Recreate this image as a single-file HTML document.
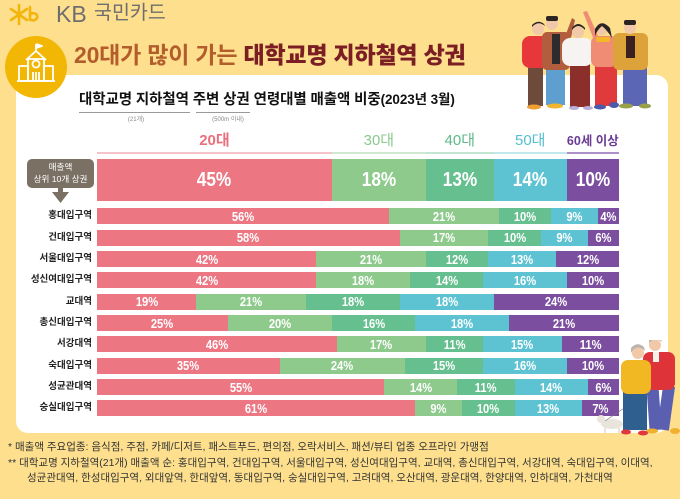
<!DOCTYPE html>
<html><head><meta charset="utf-8">
<style>
*{margin:0;padding:0;box-sizing:border-box}
body{width:680px;height:499px;background:#fddf8d;position:relative;overflow:hidden;font-family:"Liberation Sans","Noto Sans CJK KR",sans-serif}
.a{position:absolute}
.panel{left:16px;top:75px;width:652px;height:358px;background:#fff;border-radius:12px}
.title{left:74px;top:36px;font-size:23px;font-weight:bold;color:#b35c2c;white-space:nowrap;letter-spacing:-0.2px}
.title b{color:#7a1e24}
.sub{left:79px;top:88px;font-size:14.5px;font-weight:bold;color:#111;white-space:nowrap;letter-spacing:-0.1px}
.ul{height:1px;background:#9a9a9a}
.note{font-size:6px;color:#888;white-space:nowrap;transform:translateX(-50%)}
.hdr{left:97px;top:130px;width:522px;height:24px;display:flex}
.hdr div{text-align:center;font-size:15px;line-height:22px;white-space:nowrap;border-bottom:2px solid}
.bar{left:97px;width:522px;display:flex}
.bar div{display:flex;align-items:center;justify-content:center;color:#fff;font-weight:bold;overflow:visible;white-space:nowrap}
.bar span{display:inline-block;transform:scaleX(0.86)}
.r{height:16px;font-size:13px}
.big{top:159px;height:42px;font-size:20px}
.p1{background:#ec7783}.p2{background:#8dca8c}.p3{background:#66bf8e}.p4{background:#5dc3d3}.p5{background:#7b4e9f}
.lab{left:0;width:92px;text-align:right;font-size:9.5px;font-weight:bold;color:#222;line-height:16px;white-space:nowrap}
.foot{font-size:10.5px;color:#333;white-space:nowrap;line-height:14px}
.call{left:27px;top:159px;width:67px;height:29px;background:#7b7064;border-radius:5px;color:#fff;font-size:8.6px;text-align:center;line-height:12px;padding-top:2px;white-space:nowrap}
</style></head><body>

<svg class="a" style="left:8px;top:3px" width="34" height="24" viewBox="0 0 34 24">
<g stroke="#f3b50c" stroke-width="2.6" stroke-linecap="round" fill="none">
<line x1="11" y1="2" x2="11" y2="21"/>
<line x1="3" y1="6" x2="19" y2="17"/>
<line x1="3" y1="17" x2="19" y2="6"/>
<path d="M22 4 L22 17 M22 12 Q24 9 28 11 Q31 14 27 17 Q24 18 22 16"/>
</g>
</svg>
<div class="a" style="left:56px;top:1px;font-size:23px;color:#6e6e6e;line-height:26px">KB</div>
<div class="a" style="left:94px;top:2px;font-size:19.5px;color:#6e6e6e;line-height:22px">국민카드</div>

<div class="a panel"></div>

<svg class="a" style="left:5px;top:36px" width="62" height="62" viewBox="0 0 62 62">
<circle cx="31" cy="31" r="31" fill="#f2b705"/>
<g stroke="#fff" stroke-width="1.8" fill="none" stroke-linejoin="round">
<line x1="31" y1="8" x2="31" y2="16"/>
<path d="M31 8 L37 10 L31 12" fill="#fff"/>
<path d="M21 24 L31 15 L41 24"/>
<rect x="23" y="23" width="16" height="22"/>
<circle cx="31" cy="28" r="3.5"/>
<rect x="14" y="30" width="9" height="15"/>
<rect x="39" y="30" width="9" height="15"/>
<line x1="12" y1="45" x2="50" y2="45"/>
<line x1="28" y1="36" x2="28" y2="45"/><line x1="31" y1="36" x2="31" y2="45"/><line x1="34" y1="36" x2="34" y2="45"/>
</g>
</svg>

<div class="a title">20대가 많이 가는 <b>대학교명 지하철역 상권</b></div>

<div class="a sub">대학교명 지하철역 주변 상권 연령대별 매출액 비중<span style="font-size:13.5px">(2023년 3월)</span></div>
<div class="a ul" style="left:79px;top:112px;width:111px"></div>
<div class="a ul" style="left:196px;top:112px;width:54px"></div>
<div class="a note" style="left:136px;top:114px">(21개)</div>
<div class="a note" style="left:228px;top:114px">(500m 이내)</div>

<svg class="a" style="left:515px;top:5px" width="145" height="110" viewBox="515 5 145 110">
<rect x="528" y="66" width="15" height="40" fill="#6e4a3a"/>
<rect x="522" y="36" width="31" height="32" rx="8" fill="#e8373b"/>
<circle cx="538" cy="29" r="6" fill="#f1c9a8"/><path d="M532 27 Q538 20 545 26 L544 24 Q538 19 532 25Z" fill="#2c2422"/>
<ellipse cx="534" cy="107" rx="7" ry="2.5" fill="#f0a032"/>
<rect x="546" y="65" width="19" height="40" fill="#5f9fcf"/>
<rect x="542" y="32" width="28" height="38" rx="5" fill="#b25d3e"/>
<rect x="552" y="34" width="8" height="30" fill="#2d2b2b"/>
<path d="M566 34 L572 18 L575 20 L571 38Z" fill="#b25d3e"/>
<circle cx="552" cy="24" r="6" fill="#f1c9a8"/><rect x="546" y="16" width="12" height="5" rx="2" fill="#2c2422"/>
<ellipse cx="555" cy="106" rx="8" ry="2.5" fill="#f2b52e"/>
<rect x="570" y="60" width="20" height="47" fill="#8c2f2b"/>
<rect x="562" y="38" width="31" height="28" rx="8" fill="#f6f3f1"/>
<circle cx="578" cy="32" r="6" fill="#f1c9a8"/><path d="M572 30 Q578 22 585 30 L585 28 Q578 20 572 28Z" fill="#2c2422"/>
<ellipse cx="574" cy="108" rx="5" ry="2" fill="#b8b0d8"/><ellipse cx="588" cy="108" rx="5" ry="2" fill="#b8b0d8"/>
<rect x="595" y="63" width="22" height="43" fill="#e03a3d"/>
<rect x="591" y="36" width="26" height="31" rx="7" fill="#f08b74"/>
<path d="M594 40 L583 12 L587 11 L599 38Z" fill="#f08b74"/>
<rect x="596" y="37" width="14" height="5" rx="2" fill="#f5b72a"/>
<circle cx="602" cy="29" r="6" fill="#f1c9a8"/><path d="M595 29 Q601 18 610 28 L612 38 Q607 30 602 26 Q597 30 595 36Z" fill="#2c2422"/>
<ellipse cx="600" cy="107" rx="6" ry="2.5" fill="#4c5aa8"/><ellipse cx="614" cy="105" rx="5" ry="3" fill="#4c5aa8"/>
<rect x="623" y="62" width="24" height="44" fill="#5b67b5"/>
<rect x="613" y="33" width="35" height="37" rx="6" fill="#dda23a"/>
<rect x="626" y="36" width="9" height="22" fill="#3a2020"/>
<circle cx="630" cy="28" r="6" fill="#f1c9a8"/><rect x="624" y="20" width="12" height="5" rx="2" fill="#2c2422"/>
<ellipse cx="626" cy="106" rx="7" ry="2.5" fill="#9aa04a"/><ellipse cx="645" cy="106" rx="6" ry="2.5" fill="#9aa04a"/>
</svg>

<div class="a hdr">
<div style="width:45%;color:#ea6f7d;border-color:#f6c3c8;font-weight:bold">20대</div>
<div style="width:18%;color:#8bc98c;border-color:#cfe9d0">30대</div>
<div style="width:13%;color:#5fba88;border-color:#c2e6d2">40대</div>
<div style="width:14%;color:#55bfcf;border-color:#c2e8ee">50대</div>
<div style="width:10%;color:#6a3b93;border-color:#ad92c9;font-size:12.5px;font-weight:bold">60세 이상</div>
</div>

<div class="a call">매출액<br>상위 10개 상권</div>
<div class="a" style="left:58px;top:187px;width:5px;height:6px;background:#7b7064"></div>
<svg class="a" style="left:52px;top:192px" width="17" height="11"><path d="M0 0 L17 0 L8.5 11Z" fill="#7b7064"/></svg>

<div class="a bar big">
<div class="p1" style="width:45%"><span>45%</span></div>
<div class="p2" style="width:18%"><span>18%</span></div>
<div class="p3" style="width:13%"><span>13%</span></div>
<div class="p4" style="width:14%"><span>14%</span></div>
<div class="p5" style="width:10%"><span>10%</span></div>
</div>

<div class="a lab" style="top:208px">홍대입구역</div>
<div class="a bar r" style="top:208px"><div class="p1" style="width:56%"><span>56%</span></div><div class="p2" style="width:21%"><span>21%</span></div><div class="p3" style="width:10%"><span>10%</span></div><div class="p4" style="width:9%"><span>9%</span></div><div class="p5" style="width:4%"><span>4%</span></div></div>

<div class="a lab" style="top:229.5px">건대입구역</div>
<div class="a bar r" style="top:229.5px"><div class="p1" style="width:58%"><span>58%</span></div><div class="p2" style="width:17%"><span>17%</span></div><div class="p3" style="width:10%"><span>10%</span></div><div class="p4" style="width:9%"><span>9%</span></div><div class="p5" style="width:6%"><span>6%</span></div></div>

<div class="a lab" style="top:251px">서울대입구역</div>
<div class="a bar r" style="top:251px"><div class="p1" style="width:42%"><span>42%</span></div><div class="p2" style="width:21%"><span>21%</span></div><div class="p3" style="width:12%"><span>12%</span></div><div class="p4" style="width:13%"><span>13%</span></div><div class="p5" style="width:12%"><span>12%</span></div></div>

<div class="a lab" style="top:272px">성신여대입구역</div>
<div class="a bar r" style="top:272px"><div class="p1" style="width:42%"><span>42%</span></div><div class="p2" style="width:18%"><span>18%</span></div><div class="p3" style="width:14%"><span>14%</span></div><div class="p4" style="width:16%"><span>16%</span></div><div class="p5" style="width:10%"><span>10%</span></div></div>

<div class="a lab" style="top:293.5px">교대역</div>
<div class="a bar r" style="top:293.5px"><div class="p1" style="width:19%"><span>19%</span></div><div class="p2" style="width:21%"><span>21%</span></div><div class="p3" style="width:18%"><span>18%</span></div><div class="p4" style="width:18%"><span>18%</span></div><div class="p5" style="width:24%"><span>24%</span></div></div>

<div class="a lab" style="top:315px">총신대입구역</div>
<div class="a bar r" style="top:315px"><div class="p1" style="width:25%"><span>25%</span></div><div class="p2" style="width:20%"><span>20%</span></div><div class="p3" style="width:16%"><span>16%</span></div><div class="p4" style="width:18%"><span>18%</span></div><div class="p5" style="width:21%"><span>21%</span></div></div>

<div class="a lab" style="top:336px">서강대역</div>
<div class="a bar r" style="top:336px"><div class="p1" style="width:46%"><span>46%</span></div><div class="p2" style="width:17%"><span>17%</span></div><div class="p3" style="width:11%"><span>11%</span></div><div class="p4" style="width:15%"><span>15%</span></div><div class="p5" style="width:11%"><span>11%</span></div></div>

<div class="a lab" style="top:357.5px">숙대입구역</div>
<div class="a bar r" style="top:357.5px"><div class="p1" style="width:35%"><span>35%</span></div><div class="p2" style="width:24%"><span>24%</span></div><div class="p3" style="width:15%"><span>15%</span></div><div class="p4" style="width:16%"><span>16%</span></div><div class="p5" style="width:10%"><span>10%</span></div></div>

<div class="a lab" style="top:379px">성균관대역</div>
<div class="a bar r" style="top:379px"><div class="p1" style="width:55%"><span>55%</span></div><div class="p2" style="width:14%"><span>14%</span></div><div class="p3" style="width:11%"><span>11%</span></div><div class="p4" style="width:14%"><span>14%</span></div><div class="p5" style="width:6%"><span>6%</span></div></div>

<div class="a lab" style="top:400px">숭실대입구역</div>
<div class="a bar r" style="top:400px"><div class="p1" style="width:61%"><span>61%</span></div><div class="p2" style="width:9%"><span>9%</span></div><div class="p3" style="width:10%"><span>10%</span></div><div class="p4" style="width:13%"><span>13%</span></div><div class="p5" style="width:7%"><span>7%</span></div></div>

<svg class="a" style="left:595px;top:340px" width="85" height="100" viewBox="595 340 85 100">
<ellipse cx="612" cy="424" rx="11" ry="5" fill="#e9e4dc"/>
<circle cx="601" cy="419" r="4" fill="#e9e4dc"/>
<rect x="604" y="426" width="2" height="7" fill="#e9e4dc"/><rect x="618" y="426" width="2" height="7" fill="#e9e4dc"/>
<line x1="605" y1="421" x2="630" y2="404" stroke="#777" stroke-width="0.6"/>
<rect x="648" y="386" width="12" height="44" fill="#5a5fb0" transform="rotate(-4 654 408)"/>
<rect x="660" y="386" width="12" height="44" fill="#5a5fb0" transform="rotate(8 666 408)"/>
<rect x="643" y="352" width="32" height="38" rx="7" fill="#dd3339"/>
<rect x="653" y="352" width="6" height="10" fill="#f4f0ea"/>
<circle cx="655" cy="345" r="6" fill="#f1c9a8"/><path d="M649 343 Q655 336 662 342 L661 339 Q655 334 649 340Z" fill="#b9b4ae"/>
<ellipse cx="652" cy="431" rx="6" ry="2.5" fill="#f0b030"/><ellipse cx="675" cy="431" rx="5" ry="3" fill="#f0b030"/>
<rect x="623" y="390" width="24" height="40" fill="#2f5f8f"/>
<rect x="621" y="360" width="30" height="34" rx="7" fill="#f2b823"/>
<circle cx="638" cy="353" r="6" fill="#f1c9a8"/><path d="M631 353 Q637 343 645 351 L644 347 Q637 341 631 348Z" fill="#b9b4ae"/>
<ellipse cx="626" cy="432" rx="5" ry="2.5" fill="#e0363c"/><ellipse cx="643" cy="433" rx="5" ry="2.5" fill="#e0363c"/>
</svg>

<div class="a foot" style="left:8px;top:440px">* 매출액 주요업종: 음식점, 주점, 카페/디저트, 패스트푸드, 편의점, 오락서비스, 패션/뷰티 업종 오프라인 가맹점</div>
<div class="a foot" style="left:8px;top:456px">** 대학교명 지하철역(21개) 매출액 순: 홍대입구역, 건대입구역, 서울대입구역, 성신여대입구역, 교대역, 총신대입구역, 서강대역, 숙대입구역, 이대역,</div>
<div class="a foot" style="left:27px;top:471px">성균관대역, 한성대입구역, 외대앞역, 한대앞역, 동대입구역, 숭실대입구역, 고려대역, 오산대역, 광운대역, 한양대역, 인하대역, 가천대역</div>

</body></html>
